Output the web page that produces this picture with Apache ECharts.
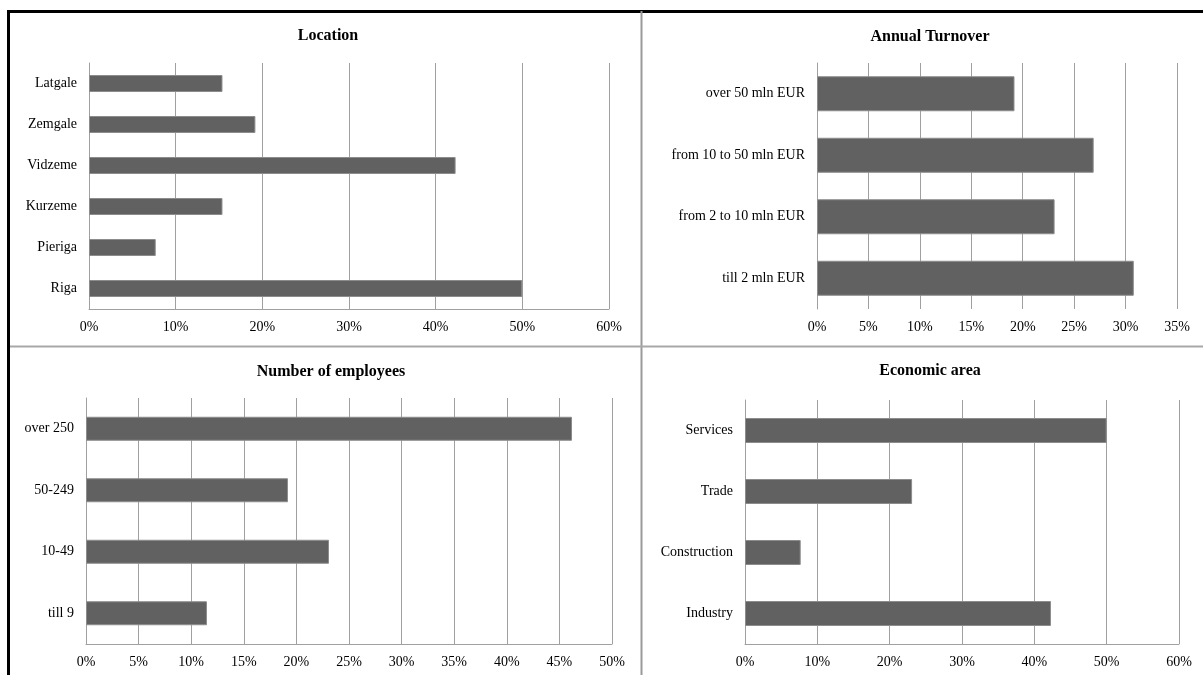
<!DOCTYPE html>
<html>
<head>
<meta charset="utf-8">
<script src="https://cdn.jsdelivr.net/npm/echarts@6/dist/echarts.min.js"></script>
<style>
  html, body { margin: 0; padding: 0; background: #fff; }
  #main { width: 1203px; height: 675px; }
</style>
</head>
<body>
<div id="main"></div>
<script>
// data (percent of respondents), categories listed bottom -> top
const locationCats = ['Riga', 'Pieriga', 'Kurzeme', 'Vidzeme', 'Zemgale', 'Latgale'];
const locationVals = [50, 7.7, 15.4, 42.3, 19.2, 15.4];

const turnoverCats = ['till 2 mln EUR', 'from 2 to 10 mln EUR', 'from 10 to 50 mln EUR', 'over 50 mln EUR'];
const turnoverVals = [30.8, 23.1, 26.9, 19.2];

const employeesCats = ['till 9', '10-49', '50-249', 'over 250'];
const employeesVals = [11.5, 23.1, 19.2, 46.2];

const areaCats = ['Industry', 'Construction', 'Trade', 'Services'];
const areaVals = [42.3, 7.7, 23.1, 50];

const titles = ['Location', 'Annual Turnover', 'Number of employees', 'Economic area'];
const axisMax = [60, 35, 50, 60];
const axisStep = [10, 5, 5, 10];

const font = 'Liberation Serif';
const gridColor = '#a0a0a0';

// panel layout
const grids = [
  { left: 89, right: 594, top: 63, bottom: 366 },
  { left: 817, right: 26, top: 63, bottom: 366 },
  { left: 86, right: 591, top: 398, bottom: 31 },
  { left: 745, right: 24, top: 400, bottom: 31 }
];
const titlePos = [[323, 23], [925, 24], [326, 359], [925, 358]];
const barWidths = [17, 35, 24, 25];
const showBottomLine = [true, false, true, true];

const cats = [locationCats, turnoverCats, employeesCats, areaCats];
const vals = [locationVals, turnoverVals, employeesVals, areaVals];

const chart = echarts.init(document.getElementById('main'));

const option = {
  animation: false,
  backgroundColor: '#fff',
  title: titles.map((t, i) => ({
    text: t,
    left: titlePos[i][0],
    top: titlePos[i][1],
    textAlign: 'center',
    textStyle: { fontFamily: font, fontSize: 16, fontWeight: 'bold', color: '#000' }
  })),
  grid: grids.map(g => Object.assign({ containLabel: false }, g)),
  xAxis: grids.map((g, i) => ({
    type: 'value',
    gridIndex: i,
    min: 0,
    max: axisMax[i],
    interval: axisStep[i],
    axisLine: { show: showBottomLine[i], lineStyle: { color: gridColor, width: 1 } },
    axisTick: { show: !showBottomLine[i], length: 0 },
    splitLine: { show: true, lineStyle: { color: gridColor, width: 1 } },
    axisLabel: {
      formatter: '{value}%',
      fontFamily: font,
      fontSize: 14,
      color: '#000',
      margin: 11
    }
  })),
  yAxis: grids.map((g, i) => ({
    type: 'category',
    gridIndex: i,
    data: cats[i],
    axisLine: { show: true, lineStyle: { color: gridColor, width: 1 } },
    axisTick: { show: false },
    axisLabel: { fontFamily: font, fontSize: 14, color: '#000', margin: 12 }
  })),
  series: vals.map((v, i) => ({
    type: 'bar',
    xAxisIndex: i,
    yAxisIndex: i,
    data: v,
    barWidth: barWidths[i],
    itemStyle: { color: '#616161', borderColor: '#8c8c8c', borderWidth: 1 }
  })),
  graphic: [
    // panel frame
    { type: 'line', shape: { x1: 8.5, y1: 11, x2: 8.5, y2: 675 }, style: { stroke: '#000', lineWidth: 3 }, z: 10 },
    { type: 'line', shape: { x1: 7, y1: 11.5, x2: 1203, y2: 11.5 }, style: { stroke: '#000', lineWidth: 3 }, z: 10 },
    { type: 'line', shape: { x1: 641.5, y1: 11, x2: 641.5, y2: 675 }, style: { stroke: '#9a9a9a', lineWidth: 2 }, z: 10 },
    { type: 'line', shape: { x1: 10, y1: 346.5, x2: 1203, y2: 346.5 }, style: { stroke: '#a8a8a8', lineWidth: 2 }, z: 10 }
  ]
};

chart.setOption(option);
</script>
</body>
</html>
